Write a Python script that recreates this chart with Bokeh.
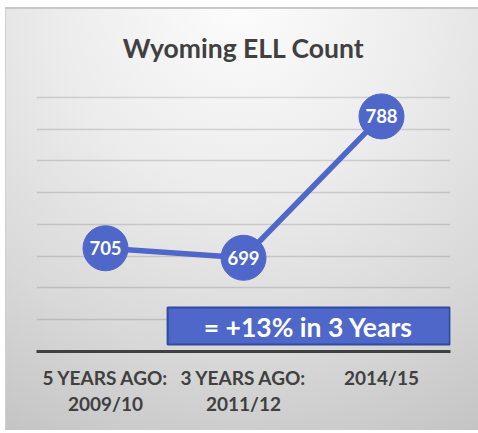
from bokeh.plotting import figure
from bokeh.models import FactorRange, Range1d, FixedTicker, BoxAnnotation, Label
from bokeh.core.properties import value
from bokeh.embed import file_html
from bokeh.resources import INLINE

# ---- data ----
categories = ["5 YEARS AGO:\n2009/10", "3 YEARS AGO:\n2011/12", "2014/15"]
counts = [705, 699, 788]
labels = [str(c) for c in counts]
y_ticks = [640, 660, 680, 700, 720, 740, 760, 780, 800]
title_text = "Wyoming ELL Count"
note_text = "= +13% in 3 Years"

BLUE = "#4e67c8"
DARK = "#404040"
FONT = "Lato"

p = figure(
    width=478, height=433,
    x_range=FactorRange(*categories),
    y_range=Range1d(640, 815),
    output_backend="svg", toolbar_location=None,
    min_border_left=36, min_border_right=28,
    min_border_top=73, min_border_bottom=82,
    title=title_text,
)
p.background_fill_alpha = 0
p.border_fill_alpha = 0
p.outline_line_color = None
p.styles = {
    "background-color": "#ffffff",
    "background-image": (
        "linear-gradient(#c8c8c8, #c8c8c8), "
        "linear-gradient(#cfcfcf, #cfcfcf), "
        "radial-gradient(circle farthest-corner at 50% 0%, #fcfcfc 0%, #ececec 38%, #d8d8d8 72%, #c4c4c4 100%)"
    ),
    "background-size": "473px 2px, 1px 423px, 473px 423px",
    "background-position": "5px 7px, 5px 7px, 5px 7px",
    "background-repeat": "no-repeat",
}

# title
p.title.align = "center"
p.title.text_font = FONT
p.title.text_font_style = "bold"
p.title.text_font_size = "26.5px"
p.title.text_color = DARK
p.title.standoff = 20

# axes
p.yaxis.visible = False
p.xaxis.axis_line_color = DARK
p.xaxis.axis_line_width = 3
p.xaxis.major_tick_line_color = None
p.xaxis.minor_tick_line_color = None
p.xaxis.major_label_text_font = FONT
p.xaxis.major_label_text_font_style = "bold"
p.xaxis.major_label_text_font_size = "19px"
p.xaxis.major_label_text_color = DARK
p.xaxis.major_label_text_line_height = 1.15
p.xaxis.major_label_standoff = 8

# grid
p.xgrid.grid_line_color = None
p.ygrid.ticker = FixedTicker(ticks=y_ticks)
p.ygrid.grid_line_color = "#000000"
p.ygrid.grid_line_alpha = 0.13
p.ygrid.grid_line_width = 1.5

# series
p.line(categories, counts, line_color=BLUE, line_width=5.5)
p.scatter(categories, counts, size=45, fill_color=BLUE, line_color=BLUE)
p.text(categories, counts, text=labels, text_align="center", text_baseline="middle",
       text_color="white", text_font=value(FONT), text_font_style="bold",
       text_font_size="18.5px")

# annotation box
box = BoxAnnotation(left=0.95, right=2.995, bottom=644.4, top=667.7,
                    fill_color=BLUE, fill_alpha=1, line_color="#2f4a9e",
                    line_width=2, line_alpha=1)
p.add_layout(box)
note = Label(x=1.97, y=655.5, text=note_text, text_align="center",
             text_baseline="middle", text_color="white", text_font=FONT,
             text_font_style="bold", text_font_size="26.5px")
p.add_layout(note)

open("out.html", "w").write(file_html(p, INLINE))
